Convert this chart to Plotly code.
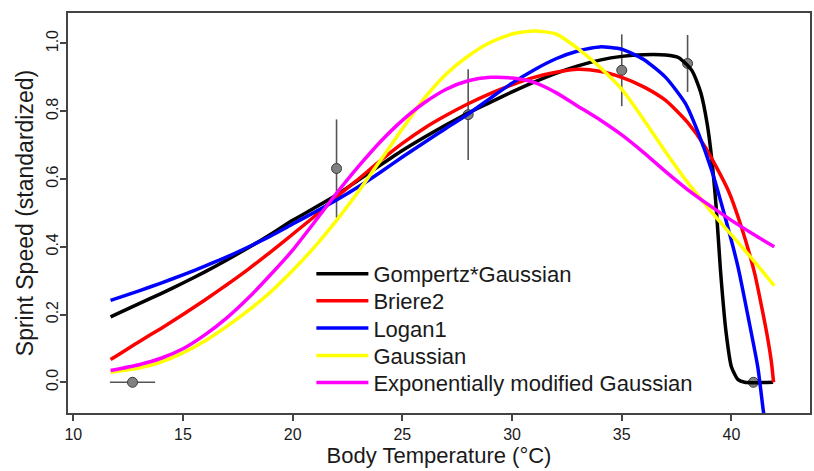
import plotly.graph_objects as go

# Observed data (means with error bars)
obs_temp = [12.7, 22.0, 28.0, 35.0, 38.0, 41.0]
obs_speed = [0.0, 0.631, 0.790, 0.921, 0.941, 0.0]
obs_err_y = [0.0, 0.145, 0.134, 0.106, 0.084, 0.0]
obs_err_x = [1.03, 0.0, 0.0, 0.0, 0.0, 0.0]

# Fitted curves
gomp_t = [11.7, 13, 14, 15, 16, 17, 18, 19, 20, 21, 22, 23, 24, 25, 26, 27, 28, 29, 30, 31, 32, 33, 34, 35,
          36, 37, 37.6, 38.2, 38.6, 38.9, 39.1, 39.3, 39.5, 39.75, 40.0, 40.3, 40.6, 41.9]
gomp_v = [0.193, 0.232, 0.262, 0.293, 0.326, 0.361, 0.398, 0.437, 0.478, 0.515, 0.553, 0.597, 0.641, 0.684,
          0.723, 0.76, 0.795, 0.826, 0.857, 0.886, 0.912, 0.934, 0.951, 0.962, 0.967, 0.966, 0.958, 0.92,
          0.855, 0.76, 0.66, 0.52, 0.33, 0.15, 0.045, 0.008, 0.0, 0.0]

briere_t = [11.7, 13, 14, 15, 16, 17, 18, 19, 20, 21, 22, 23, 24, 25, 26, 27, 28, 29, 30, 31, 32, 33, 34, 35,
            36, 37, 38, 38.8, 39.85, 40.45, 41.06, 41.4, 41.65, 41.82, 41.92]
briere_v = [0.067, 0.12, 0.159, 0.2, 0.243, 0.288, 0.335, 0.385, 0.437, 0.49, 0.547, 0.60, 0.654, 0.705,
            0.75, 0.788, 0.822, 0.852, 0.878, 0.9, 0.915, 0.924, 0.918, 0.9, 0.872, 0.832, 0.767, 0.695,
            0.567, 0.459, 0.321, 0.215, 0.13, 0.06, 0.0]

logan_t = [11.7, 13, 14, 15, 16, 17, 18, 19, 20, 21, 22, 23, 24, 25, 26, 27, 28, 29, 30, 31, 32, 33, 34, 35,
           36, 37, 37.9, 38.5, 39.1, 39.7, 40.3, 40.76, 41.2, 41.45, 41.6]
logan_v = [0.242, 0.27, 0.293, 0.317, 0.343, 0.37, 0.40, 0.432, 0.467, 0.502, 0.538, 0.577, 0.62, 0.665,
           0.708, 0.75, 0.792, 0.838, 0.883, 0.922, 0.955, 0.978, 0.99, 0.983, 0.953, 0.90, 0.823, 0.734,
           0.625, 0.49, 0.34, 0.193, 0.045, -0.083, -0.15]

gauss_t = [11.7, 13, 14, 15, 16, 17, 18, 19, 20, 21, 22, 23, 24, 25, 26, 27, 28, 29, 30, 31, 32, 33, 34, 35,
           36, 37, 38, 39, 40, 41, 41.95]
gauss_v = [0.030, 0.042, 0.06, 0.087, 0.122, 0.165, 0.213, 0.267, 0.33, 0.40, 0.478, 0.563, 0.655, 0.748,
           0.838, 0.91, 0.963, 1.003, 1.028, 1.037, 1.028, 0.985, 0.93, 0.865, 0.775, 0.68, 0.59, 0.51,
           0.435, 0.36, 0.285]

emg_t = [11.7, 13, 14, 15, 16, 17, 18, 19, 20, 21, 22, 23, 24, 25, 26, 27, 28, 29, 30, 31, 32, 33, 34, 35,
         36, 37, 38, 39, 40, 41, 41.95]
emg_v = [0.035, 0.052, 0.071, 0.099, 0.14, 0.19, 0.25, 0.318, 0.39, 0.473, 0.558, 0.637, 0.71, 0.773, 0.825,
         0.865, 0.89, 0.9, 0.898, 0.885, 0.855, 0.815, 0.775, 0.73, 0.678, 0.622, 0.569, 0.522, 0.478,
         0.437, 0.40]

series = [
    ("Gompertz*Gaussian", gomp_t, gomp_v, "#000000"),
    ("Briere2", briere_t, briere_v, "#FF0000"),
    ("Logan1", logan_t, logan_v, "#0000FF"),
    ("Gaussian", gauss_t, gauss_v, "#FFFF00"),
    ("Exponentially modified Gaussian", emg_t, emg_v, "#FF00FF"),
]

x_ticks = [10, 15, 20, 25, 30, 35, 40]
y_ticks = [0.0, 0.2, 0.4, 0.6, 0.8, 1.0]

FONT = "Liberation Sans, Arial, sans-serif"
AX = "#444444"
TXT = "#1a1a1a"

# legend row centres (paper fraction of plot height)
legend_rows = [0.3475, 0.280, 0.2118, 0.1433, 0.0758]
legend_keys = ["legend", "legend2", "legend3", "legend4", "legend5"]

fig = go.Figure()

fig.add_trace(go.Scatter(
    x=obs_temp, y=obs_speed, mode="markers", showlegend=False,
    marker=dict(size=10, color="#808080", line=dict(color="#3a3a3a", width=1)),
    error_y=dict(type="data", array=obs_err_y, visible=True, color="#555555", thickness=1.6, width=0),
    error_x=dict(type="data", array=obs_err_x, visible=True, color="#555555", thickness=1.6, width=0),
))

for (name, t, v, c), lk in zip(series, legend_keys):
    fig.add_trace(go.Scatter(
        x=t, y=v, mode="lines", name=name, legend=lk,
        line=dict(color=c, width=3.5, shape="spline", smoothing=0.6),
    ))

layout_legends = {}
for lk, yr in zip(legend_keys, legend_rows):
    layout_legends[lk] = dict(
        x=0.328, y=yr, xanchor="left", yanchor="middle",
        bgcolor="rgba(0,0,0,0)", font=dict(size=22, family=FONT, color=TXT),
        itemwidth=52,
    )

fig.update_layout(
    width=814, height=471,
    margin=dict(l=68, r=2, t=13, b=58),
    paper_bgcolor="white", plot_bgcolor="white",
    font=dict(family=FONT, color=TXT),
    **layout_legends,
)

fig.update_xaxes(
    range=[9.76, 43.58], tickvals=x_ticks, ticktext=[str(v) for v in x_ticks],
    showgrid=False, zeroline=False, showline=True, mirror=True, linecolor=AX, linewidth=1.5,
    ticks="outside", ticklen=6, tickwidth=1.5, tickcolor=AX,
    tickfont=dict(size=16, family=FONT, color=TXT),
    title=dict(text="Body Temperature (°C)", font=dict(size=22, family=FONT, color=TXT), standoff=5),
)
fig.update_yaxes(
    range=[-0.0906, 1.090], tickvals=y_ticks, ticktext=[f"{v:.1f}" for v in y_ticks],
    tickangle=-90, ticklabelstandoff=-4,
    showgrid=False, zeroline=False, showline=True, mirror=True, linecolor=AX, linewidth=1.5,
    ticks="outside", ticklen=6, tickwidth=1.5, tickcolor=AX,
    tickfont=dict(size=16, family=FONT, color=TXT),
    title=dict(text="Sprint Speed (standardized)", font=dict(size=23, family=FONT, color=TXT), standoff=4),
)

fig.write_html("out.html")
